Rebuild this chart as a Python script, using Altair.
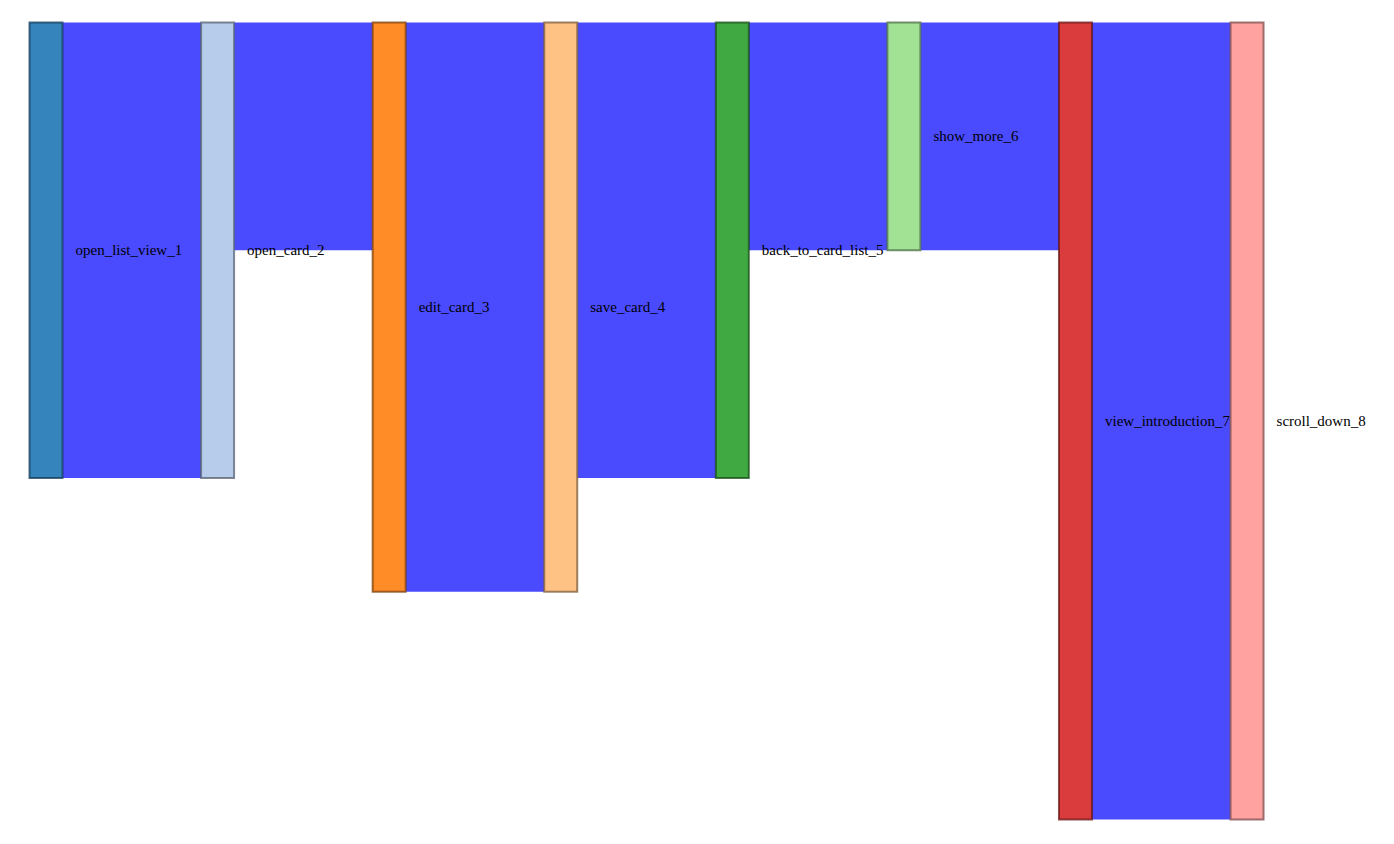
import altair as alt
import pandas as pd

node_names = ["open_list_view_1", "open_card_2", "edit_card_3", "save_card_4",
              "back_to_card_list_5", "show_more_6", "view_introduction_7", "scroll_down_8"]
node_colors = ["#1f77b4", "#aec7e8", "#ff7f0e", "#ffbb78",
               "#2ca02c", "#98df8a", "#d62728", "#ff9896"]
link_source = [0, 1, 2, 3, 4, 5, 6]
link_target = [1, 2, 3, 4, 5, 6, 7]
link_value = [4, 2, 5, 4, 2, 2, 7]

NODE_W = 0.1923  # node width in stage units


def darker(hexc, k=2):
    f = 0.7 ** k
    r, g, b = (int(hexc[i:i + 2], 16) for i in (1, 3, 5))
    return "#%02x%02x%02x" % (int(r * f), int(g * f), int(b * f))


n = len(node_names)
vin = [0] * n
vout = [0] * n
for s, t, v in zip(link_source, link_target, link_value):
    vout[s] += v
    vin[t] += v
node_val = [max(a, b) for a, b in zip(vin, vout)]

nodes = pd.DataFrame({
    "name": node_names,
    "stage": list(range(n)),
    "stage2": [i + NODE_W for i in range(n)],
    "y0": [0] * n,
    "y1": node_val,
    "ymid": [v / 2 for v in node_val],
    "color": node_colors,
    "stroke": [darker(c) for c in node_colors],
})

out_off = [0] * n
in_off = [0] * n
rows = []
for s, t, v in zip(link_source, link_target, link_value):
    rows.append({"x": s + NODE_W, "x2": t, "y0": out_off[s], "y1": out_off[s] + v})
    out_off[s] += v
    in_off[t] += v
links = pd.DataFrame(rows)

xs = alt.Scale(domain=[-0.1254, 7.906], nice=False, zero=False)
ys = alt.Scale(domain=[-0.127, 7.145], nice=False, zero=False, reverse=True)

link_layer = alt.Chart(links).mark_rect(color="#4a4aff", opacity=1).encode(
    x=alt.X("x:Q", scale=xs, axis=None),
    x2="x2:Q",
    y=alt.Y("y0:Q", scale=ys, axis=None),
    y2="y1:Q",
)

text_layer = alt.Chart(nodes).mark_text(
    align="left", baseline="middle", dx=13, font="Liberation Serif", fontSize=15, color="#000"
).encode(
    x=alt.X("stage2:Q", scale=xs, axis=None),
    y=alt.Y("ymid:Q", scale=ys, axis=None),
    text="name:N",
)

node_layer = alt.Chart(nodes).mark_rect(fillOpacity=0.9, strokeWidth=2, strokeOpacity=0.75).encode(
    x=alt.X("stage:Q", scale=xs, axis=None),
    x2="stage2:Q",
    y=alt.Y("y0:Q", scale=ys, axis=None),
    y2="y1:Q",
    fill=alt.Fill("color:N", scale=None),
    stroke=alt.Stroke("stroke:N", scale=None),
)

chart = alt.layer(link_layer, text_layer, node_layer).properties(
    width=1378, height=828, padding=0
).configure_view(stroke=None)

chart.save("out.html", embed_options={"renderer": "svg", "actions": False})
